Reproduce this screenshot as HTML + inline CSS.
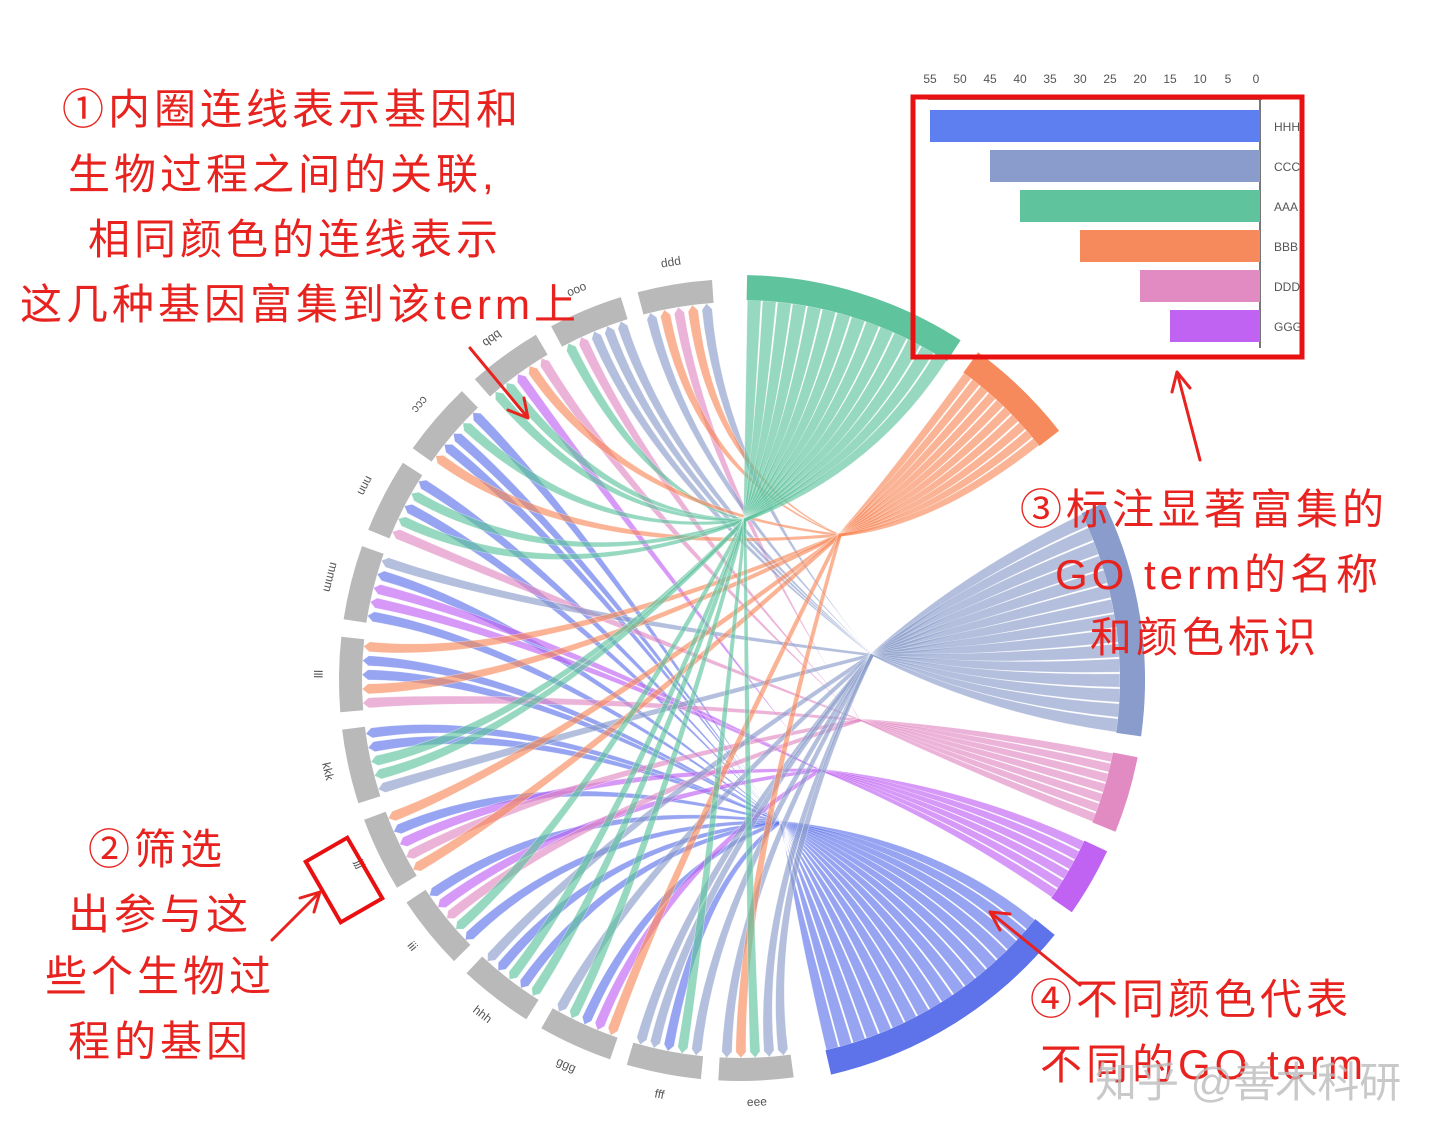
<!DOCTYPE html>
<html><head><meta charset="utf-8"><style>
html,body{margin:0;padding:0;background:#fff;}
svg{display:block}
.cn{font-family:"Liberation Sans","Noto Sans CJK SC",sans-serif;fill:#e8231f;font-size:42px;letter-spacing:4px;}
.lb{font-family:"Liberation Sans",sans-serif;fill:#555;font-size:12px;}
</style></head><body>
<svg id="s" width="1440" height="1141" viewBox="0 0 1440 1141" xmlns="http://www.w3.org/2000/svg">
<g id="chords"></g>
<g id="arcs"></g>
<g id="glabels">
<text class="lb">ppp</text><text class="lb">ooo</text><text class="lb">bbb</text><text class="lb">ccc</text><text class="lb">nnn</text><text class="lb">mmm</text><text class="lb">lll</text><text class="lb">kkk</text><text class="lb">jjj</text><text class="lb">iii</text><text class="lb">hhh</text><text class="lb">ggg</text><text class="lb">fff</text><text class="lb">eee</text>
</g>
<g class="lb" font-size="14" text-anchor="middle" fill="#444">
<text x="930" y="83">55</text><text x="960" y="83">50</text><text x="990" y="83">45</text><text x="1020" y="83">40</text><text x="1050" y="83">35</text><text x="1080" y="83">30</text><text x="1110" y="83">25</text><text x="1140" y="83">20</text><text x="1170" y="83">15</text><text x="1200" y="83">10</text><text x="1228" y="83">5</text><text x="1256" y="83">0</text>
</g>
<line x1="928" y1="99" x2="1262" y2="99" stroke="#777" stroke-width="2"/>
<line x1="1260" y1="98" x2="1260" y2="348" stroke="#777" stroke-width="2"/>
<rect x="930" y="110" width="330" height="32" fill="#5e7ff0"/>
<rect x="990" y="150" width="270" height="32" fill="#8a9ccb"/>
<rect x="1020" y="190" width="240" height="32" fill="#5fc39e"/>
<rect x="1080" y="230" width="180" height="32" fill="#f78a5c"/>
<rect x="1140" y="270" width="120" height="32" fill="#e28bc3"/>
<rect x="1170" y="310" width="90" height="32" fill="#c062f2"/>
<g class="lb" font-size="14" fill="#444">
<text x="1274" y="131">HHH</text><text x="1274" y="171">CCC</text><text x="1274" y="211">AAA</text><text x="1274" y="251">BBB</text><text x="1274" y="291">DDD</text><text x="1274" y="331">GGG</text>
</g>
<rect x="913" y="97" width="389" height="260" fill="none" stroke="#e81010" stroke-width="5"/>
<rect x="320" y="845" width="48" height="70" fill="none" stroke="#e81010" stroke-width="4" transform="rotate(-30 344 880)"/>
<g stroke="#e8231f" stroke-width="3" fill="none" stroke-linecap="round">
<path d="M470 348 L528 418 M528 418 L508 410 M528 418 L524 398"/>
<path d="M1200 460 L1177 372 M1177 372 L1172 392 M1177 372 L1190 388"/>
<path d="M272 940 L320 892 M320 892 L300 898 M320 892 L314 912"/>
<path d="M1080 985 L990 912 M990 912 L1000 930 M990 912 L1010 914"/>
</g>
<g class="cn">
<text x="62" y="124">①内圈连线表示基因和</text>
<text x="68" y="189">生物过程之间的关联,</text>
<text x="88" y="254">相同颜色的连线表示</text>
<text x="20" y="319">这几种基因富集到该term上</text>
<text x="88" y="864">②筛选</text>
<text x="68" y="929">出参与这</text>
<text x="45" y="991">些个生物过</text>
<text x="68" y="1056">程的基因</text>
<text x="1020" y="524">③标注显著富集的</text>
<text x="1055" y="589">GO term的名称</text>
<text x="1090" y="652">和颜色标识</text>
<text x="1030" y="1014">④不同颜色代表</text>
<text x="1040" y="1079">不同的GO term</text>
</g>
<text x="1095" y="1097" font-family="Liberation Sans,Noto Sans CJK SC,sans-serif" font-size="42" fill="#bbb" fill-opacity="0.8">知乎 @善木科研</text>
</svg>
<script>
var cx=740,cy=680;
function P(r,a){a=a*Math.PI/180;return [cx+r*Math.sin(a),cy-r*Math.cos(a)];}
function f(p){return p[0].toFixed(1)+" "+p[1].toFixed(1);}
function arc(r1,r2,a1,a2,col){var s=P(r2,a1),e=P(r2,a2),s2=P(r1,a2),e2=P(r1,a1);var lg=(a2-a1)>180?1:0;
return '<path d="M'+f(s)+' A'+r2+' '+r2+' 0 '+lg+' 1 '+f(e)+' L'+f(s2)+' A'+r1+' '+r1+' 0 '+lg+' 0 '+f(e2)+' Z" fill="'+col+'"/>';}
var go=[
{c:"#5fc39e",a1:1,a2:33,n:14,h:[745,520]},
{c:"#f78a5c",a1:36,a2:52,n:10,h:[840,535]},
{c:"#8a9ccb",a1:64,a2:98,n:15,h:[872,655]},
{c:"#e28bc3",a1:101,a2:112,n:7,h:[860,720]},
{c:"#c062f2",a1:115,a2:125,n:6,h:[820,770]},
{c:"#5e73ea",a1:129,a2:167,n:18,h:[780,822]}];
var genes=[];var st=356,step=13.3;
for(var i=0;i<14;i++){genes.push({a2:st-i*step,a1:st-i*step-10.8});}
var h="";
genes.forEach(function(g){h+=arc(378,401,g.a1,g.a2,"#b9b9b9");});
go.forEach(function(g){h+=arc(380,405,g.a1,g.a2,g.c);});
document.getElementById("arcs").innerHTML=h;
var tl=document.getElementById("glabels").children;
for(var i=0;i<14;i++){var g=genes[i],m=(g.a1+g.a2)/2,p=P(422,m);tl[i].setAttribute("transform","translate("+p[0].toFixed(1)+","+p[1].toFixed(1)+") rotate("+(m-180)+")");tl[i].setAttribute("text-anchor","middle");tl[i].setAttribute("dy","4");}
var list=[];go.forEach(function(g,k){for(var j=0;j<g.n;j++)list.push(k);});
var seed=7;function rnd(){seed=(seed*9301+49297)%233280;return seed/233280;}
for(var i=list.length-1;i>0;i--){var j=Math.floor(rnd()*(i+1));var t=list[i];list[i]=list[j];list[j]=t;}
var used=go.map(function(){return 0;});
var out="";
function L(a,b,t){return [a[0]+(b[0]-a[0])*t,a[1]+(b[1]-a[1])*t];}
for(var gi=0;gi<14;gi++){var g=genes[gi];
 for(var k=0;k<5;k++){var gk=list[gi*5+k],G=go[gk];
  var w=(g.a2-g.a1)/5;var ga=g.a2-k*w-0.3,gb=ga-w+0.6;
  var sw=(G.a2-G.a1)/G.n;var u=used[gk]++;var ba=G.a1+u*sw+0.12,bb=ba+sw-0.24;
  var A1=P(372,ga),A2=P(372,gb),At=P(378,(ga+gb)/2),B1=P(380,ba),B2=P(380,bb);
  var H=G.h,c=[cx,cy];
  var H1=[H[0]-1.5,H[1]-1.5],H2=[H[0]+1.5,H[1]+1.5];
  var m1=L(A1,c,0.45),m2=L(B1,c,0.35),m3=L(B2,c,0.35),m4=L(A2,c,0.45);
  var d="M"+f(A1)+" Q"+f(m1)+" "+f(H1)+" Q"+f(m2)+" "+f(B1)+" A380 380 0 0 1 "+f(B2)+" Q"+f(m3)+" "+f(H2)+" Q"+f(m4)+" "+f(A2)+" L"+f(At)+" Z";
  out+='<path d="'+d+'" fill="'+G.c+'" fill-opacity="0.65" stroke="#fff" stroke-opacity="0.5" stroke-width="0.6"/>';
 }}
document.getElementById("chords").innerHTML=out;
</script>
</body></html>
